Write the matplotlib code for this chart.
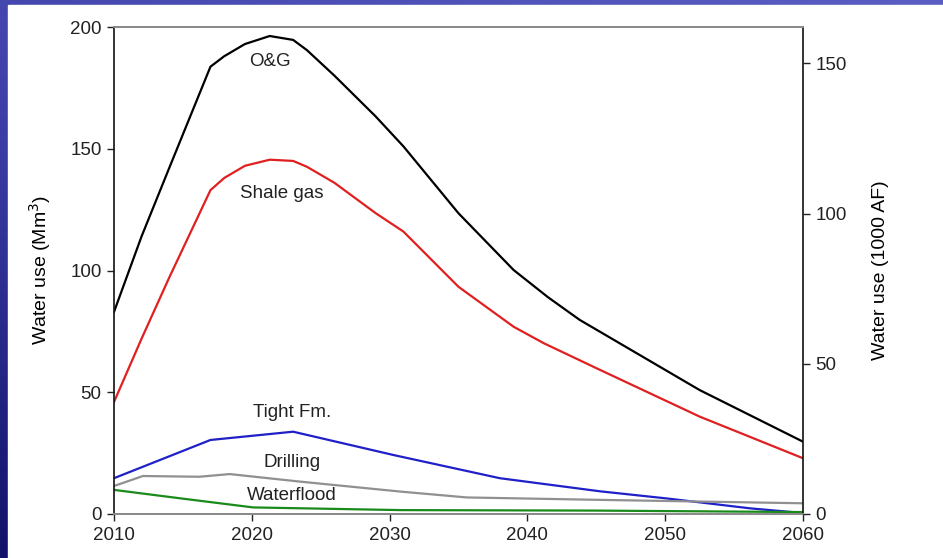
"""
Projected water use for oil & gas production, 2010-2060, by category.
"""

import matplotlib.pyplot as plt
import numpy as np
from matplotlib.colors import LinearSegmentedColormap
from matplotlib.patches import Rectangle

plt.rcParams["font.family"] = ["Liberation Sans", "DejaVu Sans"]

# values (Mm3)
og_years = [2010, 2012, 2014, 2017, 2018, 2019.5, 2021.3, 2023, 2024, 2026, 2029, 2031, 2035, 2039, 2041.5,
            2043.8, 2046.7, 2052.5, 2060]
og_vals = [83, 114, 142, 183.7, 188, 193, 196.3, 194.7, 190.5, 180, 163.2, 151, 123.5, 100.2, 89,
           79.7, 70.1, 50.9, 29.7]

shale_years = [2010, 2012, 2014, 2017, 2018, 2019.5, 2021.3, 2023, 2024, 2026, 2029, 2031, 2035, 2039, 2041.2,
               2045.3, 2052.5, 2060]
shale_vals = [46, 72, 97, 133, 138, 143, 145.5, 145, 142.6, 136, 123.5, 116, 93.3, 76.9, 70.1,
              59.1, 40.0, 22.9]

tight_years = [2010, 2017, 2023, 2030.3, 2038, 2045.3, 2050.1, 2056.2, 2060]
tight_vals = [14.7, 30.4, 33.8, 24.2, 14.7, 9.3, 6.4, 2.3, 0.4]

drill_years = [2010, 2012.1, 2016.2, 2018.4, 2023.5, 2030.8, 2035.6, 2045.3, 2060]
drill_vals = [11.5, 15.6, 15.3, 16.4, 13.3, 9.2, 6.8, 5.8, 4.4]

flood_years = [2010, 2015, 2020.1, 2030.8, 2045, 2060]
flood_vals = [9.9, 6.3, 2.7, 1.6, 1.4, 0.8]

MM3_PER_KAF = 1.2335
LEFT_MAX = 200

fig = plt.figure(figsize=(9.43, 5.58), dpi=100)

# slide background: blue gradient frame with white panel
bg = fig.add_axes([0, 0, 1, 1], zorder=-10)
gx, gy = np.meshgrid(np.linspace(0, 1, 256), np.linspace(0, 1, 256))
g = 0.35 * gx + 0.65 * gy
cmap = LinearSegmentedColormap.from_list("slide", ["#12126a", "#3c3ea6", "#5a5dc2"])
bg.imshow(g, cmap=cmap, extent=[0, 1, 0, 1], aspect="auto", origin="lower")
bg.add_patch(Rectangle((8 / 943, 0), 1, 1 - 5 / 558, color="white"))
bg.set_xlim(0, 1)
bg.set_ylim(0, 1)
bg.axis("off")

ax = fig.add_axes([114 / 943, 1 - 514 / 558, (803 - 114) / 943, (514 - 27) / 558])
ax.set_facecolor("white")

ax.plot(og_years, og_vals, color="black", lw=1.6)
ax.plot(shale_years, shale_vals, color="#e02020", lw=1.6)
ax.plot(tight_years, tight_vals, color="#2020c8", lw=1.6)
ax.plot(drill_years, drill_vals, color="#909090", lw=1.6)
ax.plot(flood_years, flood_vals, color="#1a8a1a", lw=1.6)

label_kw = dict(fontsize=13.5, ha="center", va="center", color="#222222")
ax.text(2021.3, 186, "O&G", **label_kw)
ax.text(2022.2, 131.5, "Shale gas", **label_kw)
ax.text(2022.9, 41.5, "Tight Fm.", **label_kw)
ax.text(2022.9, 21, "Drilling", **label_kw)
ax.text(2022.9, 7.8, "Waterflood", **label_kw)

ax.set_xlim(2010, 2060)
ax.set_ylim(0, LEFT_MAX)
ax.set_xticks([2010, 2020, 2030, 2040, 2050, 2060])
ax.set_yticks([0, 50, 100, 150, 200])
ax.tick_params(labelsize=13.5, length=5, width=1, colors="#222222", pad=4)
ax.set_ylabel("Water use (Mm$^3$)", fontsize=14, labelpad=12)

for side in ("left", "right"):
    ax.spines[side].set_linewidth(1.2)
    ax.spines[side].set_color("#111111")
for side in ("top", "bottom"):
    ax.spines[side].set_linewidth(1.4)
    ax.spines[side].set_color("#888888")

ax2 = ax.twinx()
ax2.set_ylim(0, LEFT_MAX / MM3_PER_KAF)
ax2.set_yticks([0, 50, 100, 150])
ax2.tick_params(labelsize=13.5, length=5, width=1, colors="#222222", pad=4)
ax2.set_ylabel("Water use (1000 AF)", fontsize=14, labelpad=18)
for s in ax2.spines.values():
    s.set_visible(False)

fig.savefig("out.png", dpi=100)
